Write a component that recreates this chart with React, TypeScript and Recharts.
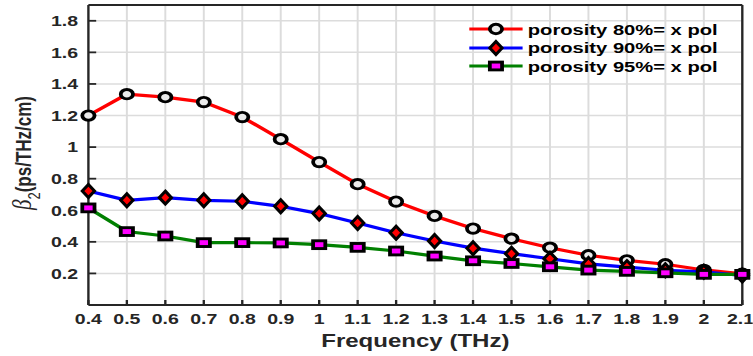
import React from 'react';
import { LineChart, Line, XAxis, YAxis, CartesianGrid, Legend } from 'recharts';

// frequency axis (THz)
const freq = [0.4, 0.5, 0.6, 0.7, 0.8, 0.9, 1.0, 1.1, 1.2, 1.3, 1.4, 1.5, 1.6, 1.7, 1.8, 1.9, 2.0, 2.1];

// beta_2 (ps/THz/cm), x polarisation
const por80 = [1.2, 1.335, 1.316, 1.285, 1.19, 1.05, 0.905, 0.765, 0.655, 0.564, 0.484, 0.42, 0.363, 0.315, 0.283, 0.258, 0.222, 0.198];
const por90 = [0.722, 0.663, 0.68, 0.663, 0.657, 0.625, 0.579, 0.519, 0.458, 0.405, 0.36, 0.325, 0.293, 0.26, 0.24, 0.22, 0.21, 0.187];
const por95 = [0.615, 0.465, 0.437, 0.395, 0.395, 0.393, 0.382, 0.365, 0.342, 0.31, 0.28, 0.263, 0.242, 0.221, 0.213, 0.204, 0.194, 0.194];

const seriesNames = ['porosity 80%= x pol', 'porosity 90%= x pol', 'porosity 95%= x pol'];

const xTicks = [0.4, 0.5, 0.6, 0.7, 0.8, 0.9, 1, 1.1, 1.2, 1.3, 1.4, 1.5, 1.6, 1.7, 1.8, 1.9, 2, 2.1];
const yTicks = [0.2, 0.4, 0.6, 0.8, 1, 1.2, 1.4, 1.6, 1.8];

const rows = freq.map((f, i) => ({ f, p80: por80[i], p90: por90[i], p95: por95[i] }));

// the figure is drawn narrow and stretched sideways, like the exported plot
const SX = 1.3;
const W = 579;
const H = 356;
const FONT = '"Liberation Sans", Arial, sans-serif';
const INK = '#262626';

type Pt = { cx?: number; cy?: number };

function CircleMark({ cx = 0, cy = 0 }: Pt) {
  return <circle cx={cx} cy={cy} r={4.7} fill="#ebebeb" stroke="#000" strokeWidth={2.9} />;
}

function DiamondMark({ cx = 0, cy = 0 }: Pt) {
  const w = 4.7;
  const h = 6.5;
  return (
    <path
      d={`M${cx},${cy - h} L${cx + w},${cy} L${cx},${cy + h} L${cx - w},${cy} Z`}
      fill="#ff0000"
      stroke="#000"
      strokeWidth={2.6}
      strokeLinejoin="miter"
    />
  );
}

function SquareMark({ cx = 0, cy = 0 }: Pt) {
  return <rect x={cx - 4.7} y={cy - 3.9} width={9.4} height={7.8} fill="#ff00ff" stroke="#000" strokeWidth={2.9} />;
}

const series = [
  { key: 'p80', name: seriesNames[0], color: '#ff0000', Mark: CircleMark },
  { key: 'p90', name: seriesNames[1], color: '#0000ff', Mark: DiamondMark },
  { key: 'p95', name: seriesNames[2], color: '#008000', Mark: SquareMark },
];

function LegendBox() {
  return (
    <div style={{ fontFamily: FONT, fontWeight: 'bold', fontSize: 15.5, color: '#000', lineHeight: 1 }}>
      {series.map((s) => (
        <div key={s.key} style={{ display: 'flex', alignItems: 'center', height: 18.5 }}>
          <svg width={41} height={18} style={{ overflow: 'visible' }}>
            <line x1={0} y1={9} x2={41} y2={9} stroke={s.color} strokeWidth={3.2} />
            <s.Mark cx={20.5} cy={9} />
          </svg>
          <span style={{ marginLeft: 4, whiteSpace: 'nowrap' }}>{s.name}</span>
        </div>
      ))}
    </div>
  );
}

function XTitle(props: any) {
  const { x, y, width } = props.viewBox;
  return (
    <text x={x + width / 2} y={y + 42} textAnchor="middle" fill={INK} fontFamily={FONT} fontWeight="bold" fontSize={18.5}>
      Frequency (THz)
    </text>
  );
}

function YTitle(props: any) {
  const { y, height } = props.viewBox;
  const tx = 24;
  const ty = y + height / 2 - 2;
  return (
    <text x={tx} y={ty} transform={`rotate(-90, ${tx}, ${ty})`} textAnchor="middle" fill={INK}>
      <tspan fontFamily='"Liberation Serif", serif' fontStyle="italic" fontSize={21}>β</tspan>
      <tspan fontFamily={FONT} fontSize={13} dy={7}>2</tspan>
      <tspan fontFamily={FONT} fontWeight="bold" fontSize={17} dy={-7}>(ps/THz/cm)</tspan>
    </text>
  );
}

const tickStyle = { fill: INK, fontSize: 15, fontWeight: 'bold', fontFamily: FONT };
const axisLine = { stroke: INK, strokeWidth: 1.8 };

export default function App() {
  return (
    <div style={{ position: 'absolute', left: 0, top: 0, width: 753, height: H, overflow: 'hidden', background: '#fff' }}>
      <div style={{ width: W, height: H, transform: `scaleX(${SX})`, transformOrigin: '0 0' }}>
        <LineChart width={W} height={H} data={rows} margin={{ top: 0, right: 0, bottom: 0, left: 0 }}>
          <CartesianGrid stroke="#dcdcdc" strokeWidth={1.5} />
          <XAxis
            dataKey="f"
            type="number"
            domain={[0.4, 2.1]}
            ticks={xTicks}
            height={51}
            tickSize={-5}
            tickMargin={13}
            tick={tickStyle}
            axisLine={axisLine}
            tickLine={axisLine}
            label={XTitle}
          />
          <XAxis
            xAxisId="top"
            orientation="top"
            dataKey="f"
            type="number"
            domain={[0.4, 2.1]}
            ticks={xTicks}
            height={5}
            tickSize={-5}
            tick={false}
            axisLine={axisLine}
            tickLine={axisLine}
          />
          <YAxis
            type="number"
            domain={[0, 1.9]}
            ticks={yTicks}
            width={68}
            tickSize={-6}
            tickMargin={14}
            tick={tickStyle}
            axisLine={axisLine}
            tickLine={axisLine}
            label={YTitle}
          />
          <YAxis
            yAxisId="right"
            orientation="right"
            type="number"
            domain={[0, 1.9]}
            ticks={yTicks}
            width={8}
            tickSize={-6}
            tick={false}
            axisLine={axisLine}
            tickLine={axisLine}
          />
          <Legend
            layout="vertical"
            align="center"
            verticalAlign="middle"
            content={LegendBox}
            wrapperStyle={{ left: 361, top: 20, width: 'auto' }}
          />
          {series.map((s) => (
            <Line
              key={s.key}
              dataKey={s.key}
              name={s.name}
              stroke={s.color}
              strokeWidth={3.2}
              isAnimationActive={false}
              dot={(p: any) => <s.Mark key={`${s.key}-${p.index}`} cx={p.cx} cy={p.cy} />}
            />
          ))}
        </LineChart>
      </div>
    </div>
  );
}
